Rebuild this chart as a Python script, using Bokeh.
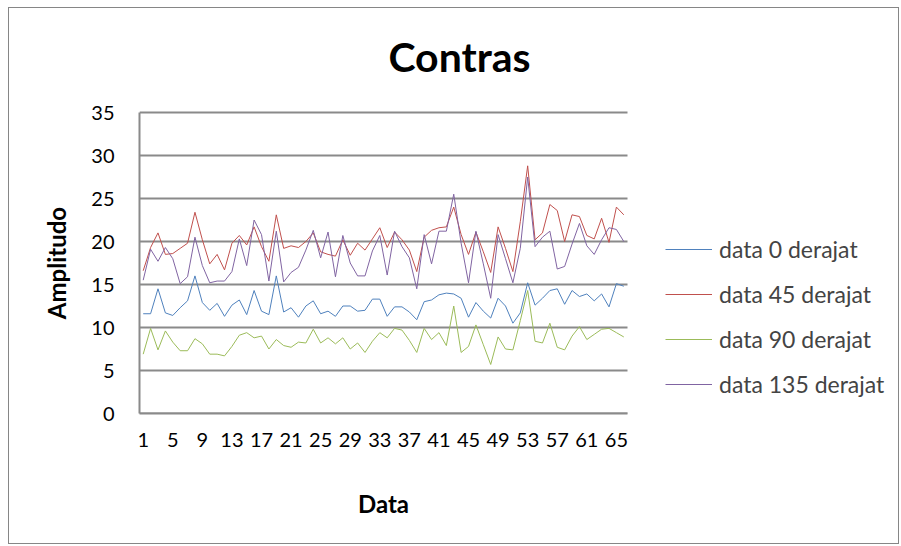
from bokeh.plotting import figure
from bokeh.models import FixedTicker, Legend, LegendItem, Range1d, Label, LinearAxis
from bokeh.embed import file_html
from bokeh.resources import INLINE

# ---- data ----
x_index = list(range(1, 67))
x_ticks = list(range(1, 67, 4))
y_ticks = [0, 5, 10, 15, 20, 25, 30, 35]

data_0 = [11.6, 11.6, 14.5, 11.7, 11.4, 12.3, 13.1, 16.0, 12.9, 12.0,
          12.8, 11.3, 12.6, 13.2, 11.5, 14.3, 11.9, 11.5, 16.0, 11.8,
          12.3, 11.2, 12.5, 13.1, 11.6, 11.9, 11.3, 12.5, 12.5, 11.9,
          12.0, 13.3, 13.3, 11.3, 12.4, 12.4, 11.8, 10.9, 13.0, 13.2,
          13.8, 14.0, 13.9, 13.4, 11.2, 12.9, 11.9, 11.1, 13.4, 12.5,
          10.5, 11.7, 15.2, 12.6, 13.4, 14.3, 14.5, 12.7, 14.3, 13.6,
          13.9, 13.1, 13.9, 12.4, 15.1, 14.8]
data_45 = [16.6, 19.3, 21.0, 18.5, 18.6, 19.2, 19.8, 23.4, 20.2, 17.4,
           18.5, 16.7, 19.8, 20.7, 19.6, 21.7, 19.4, 17.7, 23.1, 19.2,
           19.5, 19.3, 20.0, 21.0, 18.8, 18.5, 18.3, 20.2, 18.4, 19.8,
           19.0, 20.3, 21.6, 19.3, 21.1, 20.2, 19.0, 16.5, 20.5, 21.3,
           21.6, 21.7, 24.0, 20.8, 18.5, 21.1, 18.8, 16.4, 21.7, 19.2,
           16.5, 22.3, 28.8, 20.2, 21.0, 24.3, 23.6, 20.0, 23.1, 22.9,
           20.7, 20.3, 22.7, 19.9, 24.0, 23.1]
data_90 = [6.9, 9.9, 7.4, 9.6, 8.3, 7.3, 7.3, 8.7, 8.1, 6.9,
           6.9, 6.7, 7.8, 9.1, 9.4, 8.8, 9.0, 7.5, 8.6, 7.9,
           7.7, 8.3, 8.2, 9.8, 8.2, 8.8, 8.1, 8.8, 7.5, 8.2,
           7.1, 8.4, 9.4, 8.8, 9.9, 9.7, 8.5, 7.1, 9.9, 8.6,
           9.4, 7.9, 12.5, 7.1, 7.8, 10.3, 8.0, 5.7, 8.9, 7.5,
           7.4, 10.8, 14.3, 8.4, 8.2, 10.5, 7.7, 7.4, 9.0, 10.1,
           8.6, 9.2, 9.8, 9.9, 9.4, 8.9]
data_135 = [15.5, 19.1, 17.7, 19.3, 18.0, 15.1, 15.9, 20.5, 17.2, 15.2,
            15.4, 15.4, 16.5, 20.3, 17.2, 22.5, 20.8, 15.4, 21.2, 15.3,
            16.4, 17.0, 19.0, 21.3, 18.1, 21.1, 15.9, 20.7, 17.5, 16.0,
            16.0, 18.9, 20.7, 16.1, 21.2, 19.4, 18.1, 14.5, 20.8, 17.4,
            21.2, 21.2, 25.5, 19.8, 15.2, 21.2, 17.4, 13.4, 20.8, 18.0,
            15.2, 19.2, 27.5, 19.4, 20.5, 21.2, 16.8, 17.1, 19.7, 22.1,
            19.5, 18.5, 20.2, 21.6, 21.4, 20.0]

series_names = ["data 0 derajat", "data 45 derajat", "data 90 derajat", "data 135 derajat"]
series_values = [data_0, data_45, data_90, data_135]
series_colors = ["#4F81BD", "#C0504D", "#9BBB59", "#8064A2"]

FONT = "Lato"
GRID = "#8a8a8a"

# layout geometry (pixels)
W, H = 891, 537
LEFT, TOP, RIGHT, BOTTOM = 130, 10, 0, 132
PLOT_W, PLOT_H = 488, 301          # visible plotting area of the chart
frame_w = W - LEFT - RIGHT
frame_h = H - TOP - BOTTOM

x_lo = x_index[0] - 0.5
x_hi = x_index[-1] + 0.5
y_lo, y_hi = y_ticks[0], y_ticks[-1]
x_mid = (x_lo + x_hi) / 2
y_mid = (y_lo + y_hi) / 2

p = figure(width=W, height=H, output_backend="svg", toolbar_location=None,
           x_range=Range1d(x_lo, x_lo + (x_hi - x_lo) * frame_w / PLOT_W),
           y_range=Range1d(y_lo, y_lo + (y_hi - y_lo) * frame_h / PLOT_H),
           min_border_left=LEFT, min_border_right=RIGHT,
           min_border_top=TOP, min_border_bottom=BOTTOM)
p.styles = {"border": "1px solid #868686", "margin-left": "8px", "margin-top": "7px"}
p.outline_line_color = None
p.background_fill_color = "white"
p.border_fill_color = "white"
p.xgrid.grid_line_color = None
p.ygrid.grid_line_color = None

# horizontal gridlines limited to the plotting area
p.segment(x0=[x_lo] * len(y_ticks), x1=[x_hi] * len(y_ticks), y0=y_ticks, y1=y_ticks,
          line_color=GRID, line_width=2)

renderers = []
for name, vals, col in zip(series_names, series_values, series_colors):
    r = p.line(x_index, vals, line_color=col, line_width=1)
    renderers.append((name, r))

# main axes
p.xaxis.ticker = FixedTicker(ticks=x_ticks)
p.yaxis.ticker = FixedTicker(ticks=y_ticks)
p.xaxis.bounds = (x_lo, x_hi)
p.yaxis.bounds = (y_lo, y_hi)
for ax in (p.xaxis, p.yaxis):
    ax.major_tick_line_color = None
    ax.minor_tick_line_color = None
    ax.axis_line_color = GRID
    ax.axis_line_width = 2
    ax.major_label_text_font = FONT
    ax.major_label_text_font_size = "20px"
    ax.major_label_text_color = "black"
p.xaxis.major_label_standoff = 13
p.yaxis.major_label_standoff = 19

# axis titles, centred on the plotting area
x_title_axis = LinearAxis(ticker=FixedTicker(ticks=[x_mid]),
                          major_label_overrides={x_mid: "Data"})
y_title_axis = LinearAxis(ticker=FixedTicker(ticks=[y_mid]),
                          major_label_overrides={y_mid: "Amplitudo"},
                          major_label_orientation="vertical")
for ax in (x_title_axis, y_title_axis):
    ax.axis_line_color = None
    ax.major_tick_line_color = None
    ax.minor_tick_line_color = None
    ax.major_label_text_font = FONT
    ax.major_label_text_font_style = "bold"
    ax.major_label_text_font_size = "24px"
    ax.major_label_text_color = "black"
x_title_axis.major_label_standoff = 33
y_title_axis.major_label_standoff = 12
p.add_layout(x_title_axis, "below")
p.add_layout(y_title_axis, "left")

# chart title (screen units from the plotting area's lower-left corner)
title = Label(x=320, y=357, x_units="screen", y_units="screen", text="Contras",
              text_font=FONT, text_font_style="bold", text_font_size="41px",
              text_align="center", text_baseline="middle", text_color="black")
p.add_layout(title)

legend = Legend(items=[LegendItem(label=n, renderers=[r]) for n, r in renderers],
                location=(526, 15), orientation="vertical",
                glyph_width=47, glyph_height=20, label_height=20, label_standoff=7,
                spacing=17, padding=0, margin=0,
                label_text_font=FONT, label_text_font_size="23px",
                border_line_color=None, background_fill_alpha=0)
p.add_layout(legend)

open("out.html", "w").write(file_html(p, INLINE))
